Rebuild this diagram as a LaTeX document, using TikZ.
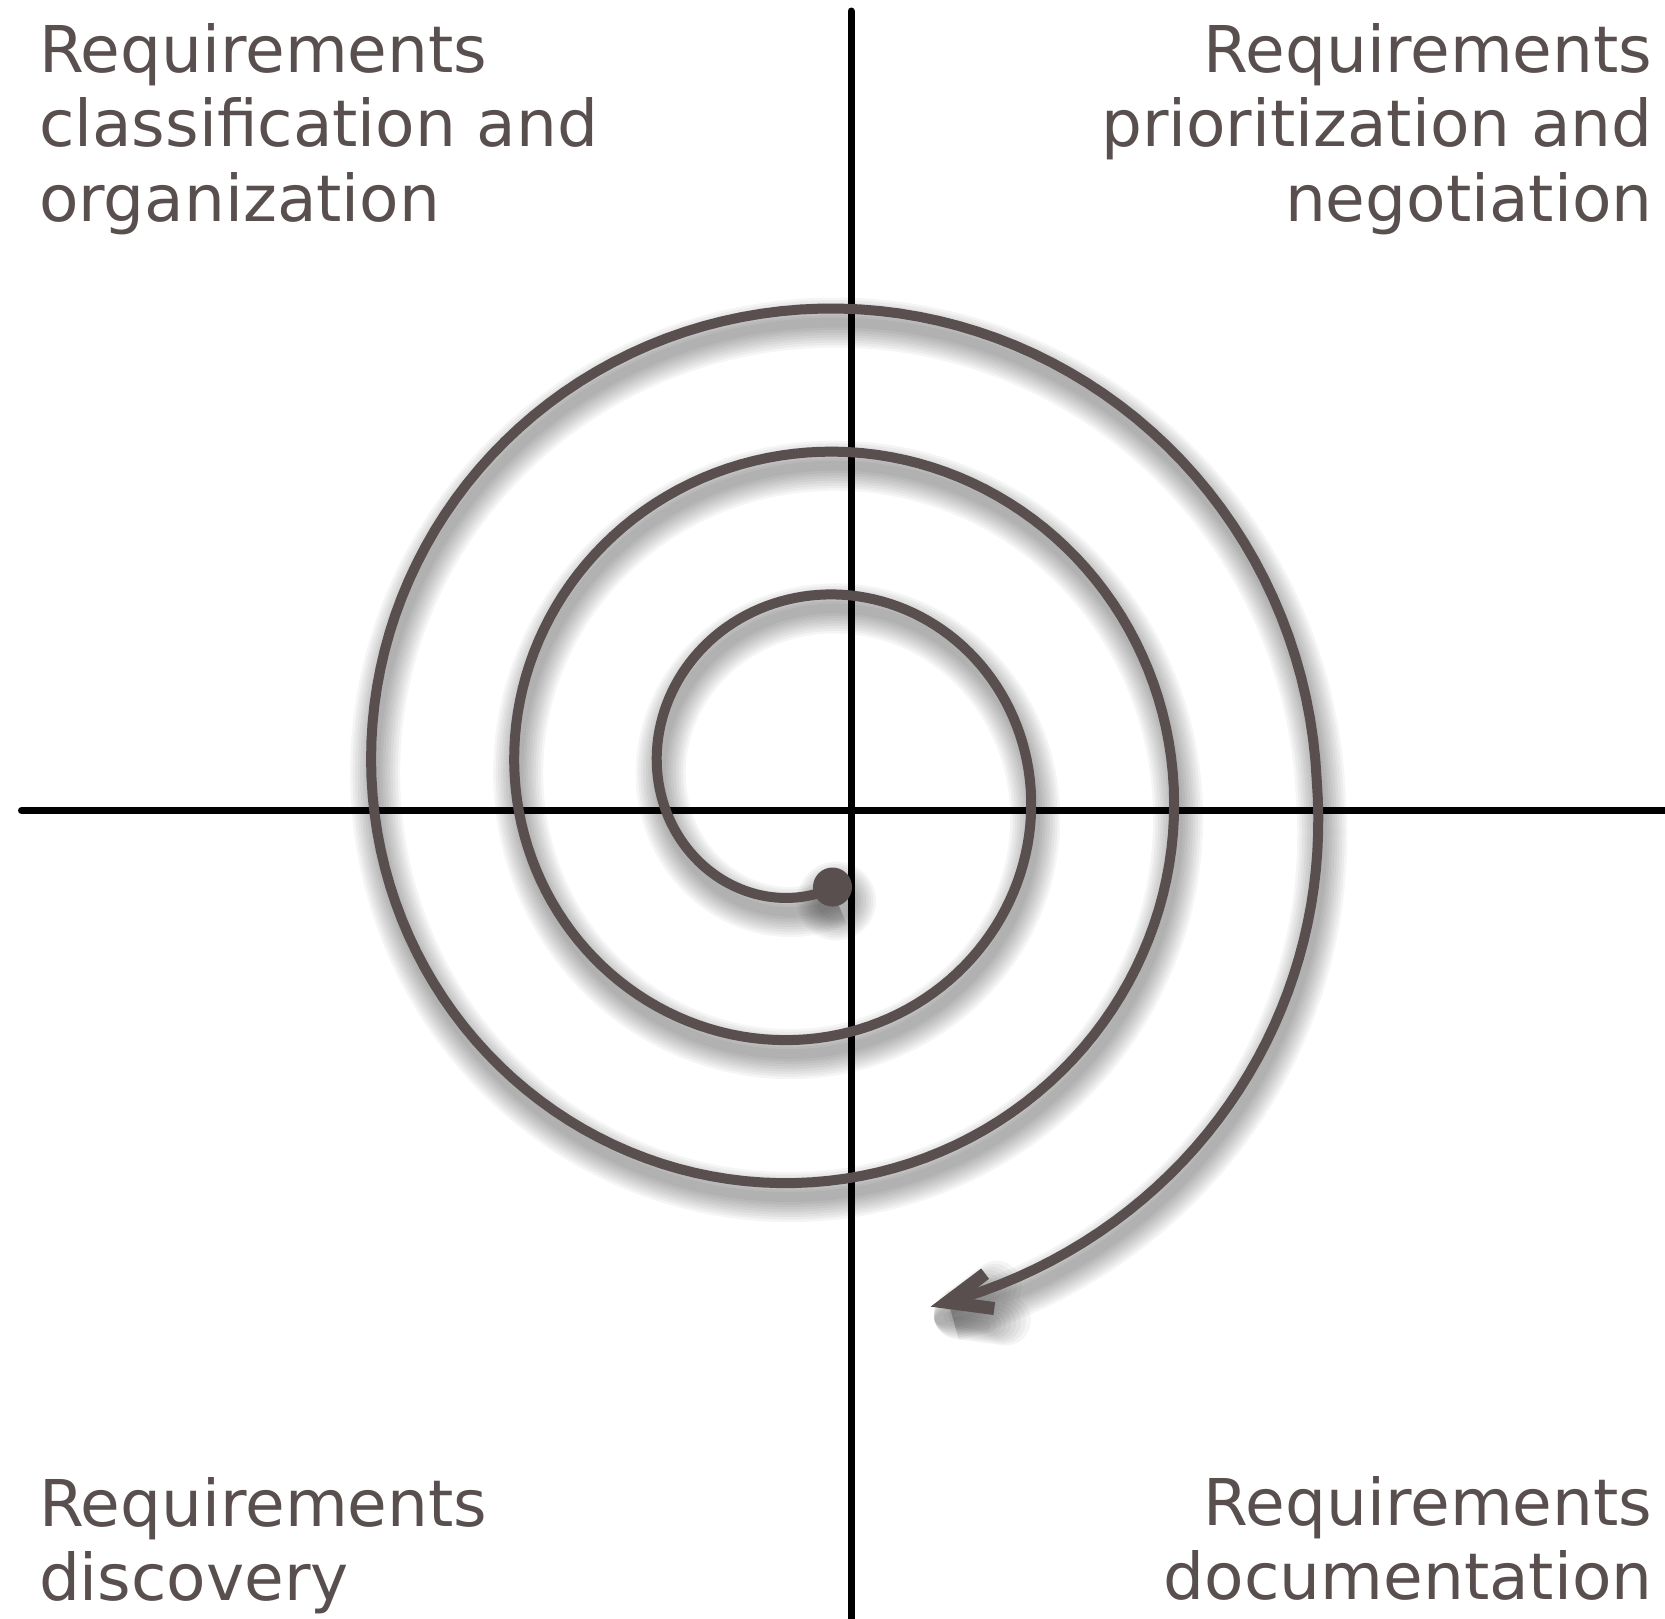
\documentclass[tikz,border=0pt]{standalone}
\usepackage{xcolor}
\usepackage{tikz}
\usepackage{fontspec}
\usetikzlibrary{arrows.meta, positioning, calc}
\newfontfamily\labelfont{DejaVu Sans}
\definecolor{spiralcolor}{RGB}{89, 79, 79}
\definecolor{axiscolor}{RGB}{0, 0, 0}

% spiral: archimedean turns, then the last sweep (slightly widened) down to the arrow
\newcommand{\spiralpath}{plot[domain=283.1:-720, samples=420] ({8.084 + (1.5 + 0.003982*(180-\x))*cos(\x)}, {-7.816 + (1.5 + 0.003982*(180-\x))*sin(\x)})
    -- plot[domain=-720:-796.9, samples=40] ({8.084 + (1.5 + 0.003982*(180-\x) + 0.07*sin(180*(-720-\x)/77))*cos(\x)}, {-7.816 + (1.5 + 0.003982*(180-\x) + 0.07*sin(180*(-720-\x)/77))*sin(\x)})}

\begin{document}
\begin{tikzpicture}[
    quadlabel/.style={font=\labelfont\fontsize{18.35}{21.1}\selectfont, text=spiralcolor, inner sep=0pt},
    axisline/.style={draw=axiscolor, line width=0.07cm, line cap=round},
    spiralline/.style={draw=spiralcolor, line width=0.1cm},
    spiraltip/.style={-{Straight Barb[length=4.4mm, width=3.6mm, line width=0.13cm, sharp]}},
    shadowtip/.style={-{Straight Barb[length=4.4mm, width=3.6mm, line width=#1, round]}},
    spiralshadow/.style={draw=black, opacity=0.04, xshift=0.04cm, yshift=-0.14cm}
]
    \useasboundingbox (0, 0) rectangle (16.65, -16.18);

    % Axes
    \draw[axisline] (8.51, -0.11) -- (8.51, -16.3);
    \draw[axisline] (0.215, -8.105) -- (16.8, -8.105);

    % Shadow of the spiral
    \foreach \w in {0.10, 0.15, 0.20, 0.25, 0.30, 0.35, 0.40, 0.45, 0.50} {
        \draw[spiralshadow, shadowtip=\w cm, line width=\w cm] \spiralpath;
        \fill[black, opacity=0.04, xshift=0.04cm, yshift=-0.14cm] (8.325, -8.87) circle ({0.195 + \w/2 - 0.05});
    }

    % Spiral
    \draw[spiralline, spiraltip] \spiralpath;
    \fill[spiralcolor] (8.325, -8.87) circle (0.195);

    % Quadrant labels
    \node[quadlabel, anchor=north west, align=left] (classlabel) at (0.383, -0.23) {Requirements\\classification and\\organization};
    \node[quadlabel, anchor=north east, align=right] (priolabel) at (16.53, -0.23) {Requirements\\prioritization and\\negotiation};
    \node[quadlabel, anchor=south west, align=left] (disclabel) at (0.383, -16.15) {Requirements\\discovery};
    \node[quadlabel, anchor=south east, align=right] (doclabel) at (16.53, -16.01) {Requirements\\documentation};

\end{tikzpicture}
\end{document}
